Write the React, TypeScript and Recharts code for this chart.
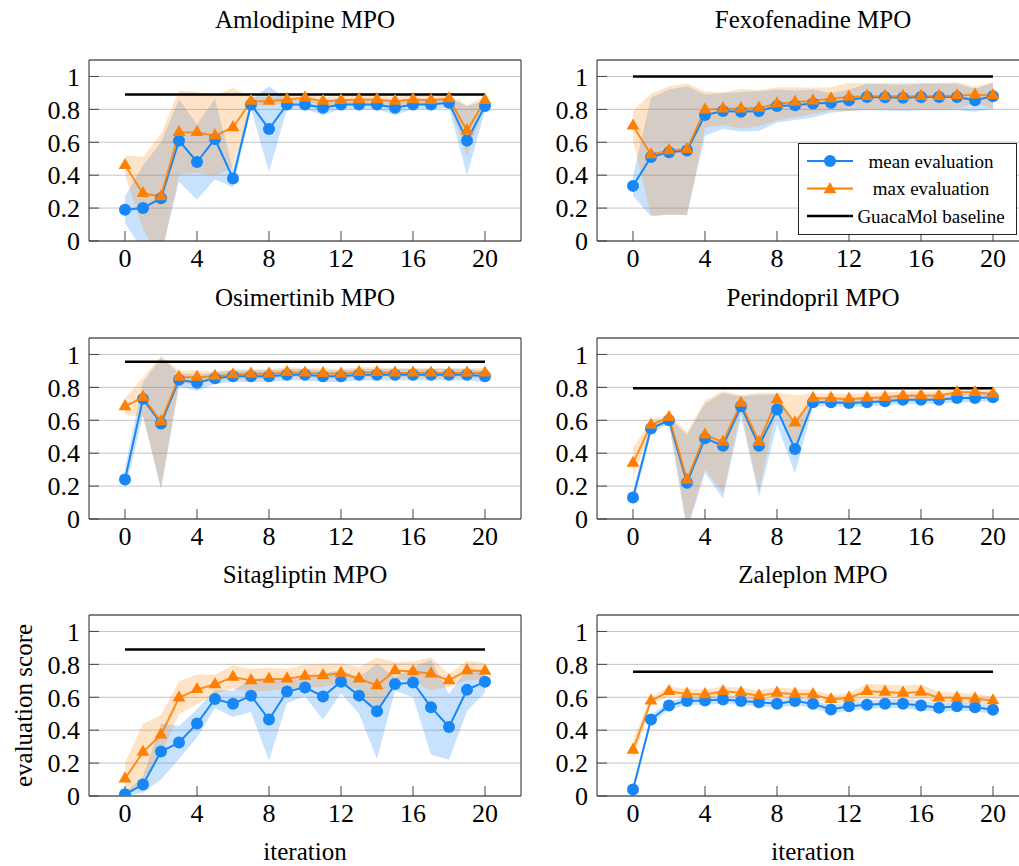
import React from "react";
import {
  ComposedChart,
  Line,
  Area,
  XAxis,
  YAxis,
  CartesianGrid,
  Legend,
} from "recharts";

const BLUE = "#1787f7";
const ORANGE = "#ff7f00";
const FONT = "'Liberation Serif', 'Times New Roman', serif";

const iterations = [0, 1, 2, 3, 4, 5, 6, 7, 8, 9, 10, 11, 12, 13, 14, 15, 16, 17, 18, 19, 20];
const xTicks = [0, 4, 8, 12, 16, 20];
const yTicks = [0, 0.2, 0.4, 0.6, 0.8, 1];

// Amlodipine MPO
const amlodipineMean = [0.19, 0.2, 0.26, 0.61, 0.48, 0.62, 0.38, 0.83, 0.68, 0.83, 0.83, 0.81, 0.83, 0.83, 0.83, 0.81, 0.83, 0.83, 0.84, 0.61, 0.82];
const amlodipineMeanSd = [0.08, 0.26, 0.34, 0.25, 0.23, 0.245, 0.055, 0.03, 0.26, 0.03, 0.03, 0.045, 0.03, 0.03, 0.03, 0.045, 0.03, 0.03, 0.03, 0.21, 0.03];
const amlodipineMax = [0.46, 0.29, 0.27, 0.66, 0.66, 0.64, 0.69, 0.85, 0.85, 0.86, 0.87, 0.85, 0.855, 0.86, 0.86, 0.85, 0.86, 0.855, 0.865, 0.67, 0.855];
const amlodipineMaxSd = [0.06, 0.22, 0.38, 0.255, 0.245, 0.245, 0.24, 0.025, 0.025, 0.025, 0.02, 0.025, 0.025, 0.025, 0.025, 0.025, 0.025, 0.025, 0.025, 0.155, 0.025];

// Fexofenadine MPO
const fexofenadineMean = [0.335, 0.51, 0.54, 0.55, 0.765, 0.79, 0.785, 0.79, 0.82, 0.825, 0.835, 0.84, 0.855, 0.875, 0.873, 0.87, 0.875, 0.875, 0.875, 0.855, 0.88];
const fexofenadineMeanSd = [0.06, 0.36, 0.38, 0.39, 0.125, 0.11, 0.12, 0.12, 0.1, 0.09, 0.085, 0.06, 0.065, 0.08, 0.08, 0.08, 0.08, 0.08, 0.08, 0.07, 0.08];
const fexofenadineMax = [0.7, 0.525, 0.55, 0.557, 0.798, 0.804, 0.804, 0.808, 0.834, 0.844, 0.852, 0.865, 0.875, 0.88, 0.88, 0.88, 0.88, 0.88, 0.885, 0.889, 0.885];
const fexofenadineMaxSd = [0.09, 0.37, 0.39, 0.4, 0.11, 0.1, 0.12, 0.11, 0.1, 0.09, 0.08, 0.07, 0.085, 0.08, 0.08, 0.08, 0.08, 0.08, 0.08, 0.05, 0.08];

// Osimertinib MPO
const osimertinibMean = [0.24, 0.73, 0.58, 0.846, 0.828, 0.856, 0.868, 0.868, 0.868, 0.876, 0.876, 0.868, 0.868, 0.876, 0.876, 0.876, 0.876, 0.876, 0.876, 0.876, 0.868];
const osimertinibMeanSd = [0.07, 0.1, 0.4, 0.04, 0.05, 0.035, 0.035, 0.035, 0.035, 0.035, 0.035, 0.035, 0.035, 0.035, 0.035, 0.035, 0.035, 0.035, 0.035, 0.035, 0.035];
const osimertinibMax = [0.684, 0.74, 0.592, 0.862, 0.862, 0.868, 0.878, 0.882, 0.882, 0.892, 0.888, 0.886, 0.882, 0.892, 0.892, 0.888, 0.888, 0.888, 0.888, 0.888, 0.888];
const osimertinibMaxSd = [0.05, 0.12, 0.4, 0.04, 0.04, 0.03, 0.03, 0.03, 0.03, 0.03, 0.03, 0.03, 0.03, 0.03, 0.03, 0.03, 0.03, 0.03, 0.03, 0.03, 0.03];

// Perindopril MPO
const perindoprilMean = [0.13, 0.55, 0.6, 0.22, 0.49, 0.445, 0.685, 0.445, 0.665, 0.425, 0.71, 0.71, 0.705, 0.71, 0.715, 0.725, 0.725, 0.725, 0.735, 0.735, 0.74];
const perindoprilMeanSd = [0.04, 0.03, 0.02, 0.29, 0.21, 0.32, 0.06, 0.31, 0.09, 0.15, 0.025, 0.025, 0.025, 0.025, 0.025, 0.025, 0.025, 0.025, 0.025, 0.025, 0.025];
const perindoprilMax = [0.34, 0.572, 0.618, 0.237, 0.511, 0.467, 0.704, 0.467, 0.726, 0.584, 0.734, 0.734, 0.73, 0.736, 0.74, 0.75, 0.75, 0.75, 0.77, 0.77, 0.76];
const perindoprilMaxSd = [0.09, 0.03, 0.02, 0.29, 0.21, 0.31, 0.05, 0.3, 0.04, 0.17, 0.03, 0.03, 0.03, 0.03, 0.03, 0.025, 0.025, 0.025, 0.02, 0.02, 0.02];

// Sitagliptin MPO
const sitagliptinMean = [0.01, 0.07, 0.27, 0.325, 0.44, 0.59, 0.56, 0.61, 0.465, 0.635, 0.66, 0.605, 0.695, 0.61, 0.515, 0.68, 0.69, 0.54, 0.42, 0.645, 0.695];
const sitagliptinMeanSd = [0.01, 0.05, 0.17, 0.1, 0.085, 0.055, 0.08, 0.1, 0.25, 0.07, 0.055, 0.14, 0.07, 0.11, 0.29, 0.04, 0.09, 0.29, 0.2, 0.13, 0.065];
const sitagliptinMax = [0.105, 0.267, 0.372, 0.597, 0.648, 0.678, 0.723, 0.702, 0.71, 0.713, 0.729, 0.733, 0.747, 0.713, 0.672, 0.763, 0.757, 0.743, 0.702, 0.763, 0.759];
const sitagliptinMaxSd = [0.1, 0.17, 0.12, 0.1, 0.09, 0.06, 0.07, 0.07, 0.07, 0.06, 0.07, 0.07, 0.06, 0.07, 0.17, 0.05, 0.06, 0.1, 0.04, 0.06, 0.05];

// Zaleplon MPO
const zaleplonMean = [0.04, 0.465, 0.55, 0.578, 0.58, 0.587, 0.578, 0.57, 0.56, 0.578, 0.56, 0.526, 0.545, 0.555, 0.56, 0.56, 0.55, 0.536, 0.545, 0.54, 0.524];
const zaleplonMeanSd = [0.02, 0.025, 0.025, 0.025, 0.025, 0.025, 0.025, 0.025, 0.025, 0.025, 0.025, 0.025, 0.025, 0.025, 0.025, 0.025, 0.03, 0.025, 0.025, 0.025, 0.025];
const zaleplonMax = [0.28, 0.578, 0.636, 0.62, 0.617, 0.636, 0.628, 0.61, 0.626, 0.62, 0.617, 0.587, 0.597, 0.636, 0.632, 0.626, 0.632, 0.597, 0.597, 0.591, 0.58];
const zaleplonMaxSd = [0.06, 0.02, 0.03, 0.03, 0.03, 0.03, 0.03, 0.03, 0.035, 0.03, 0.03, 0.025, 0.03, 0.045, 0.045, 0.045, 0.045, 0.035, 0.03, 0.03, 0.025];

// GuacaMol baselines
const baselines = [0.89, 1.0, 0.955, 0.795, 0.89, 0.755];
const titles = ["Amlodipine MPO", "Fexofenadine MPO", "Osimertinib MPO", "Perindopril MPO", "Sitagliptin MPO", "Zaleplon MPO"];

const LEGEND = [
  { label: "mean evaluation", color: BLUE, marker: "circle" },
  { label: "max evaluation", color: ORANGE, marker: "triangle" },
  { label: "GuacaMol baseline", color: "#000", marker: "none" },
];

const panels = [
  { mean: amlodipineMean, meanSd: amlodipineMeanSd, max: amlodipineMax, maxSd: amlodipineMaxSd },
  { mean: fexofenadineMean, meanSd: fexofenadineMeanSd, max: fexofenadineMax, maxSd: fexofenadineMaxSd },
  { mean: osimertinibMean, meanSd: osimertinibMeanSd, max: osimertinibMax, maxSd: osimertinibMaxSd },
  { mean: perindoprilMean, meanSd: perindoprilMeanSd, max: perindoprilMax, maxSd: perindoprilMaxSd },
  { mean: sitagliptinMean, meanSd: sitagliptinMeanSd, max: sitagliptinMax, maxSd: sitagliptinMaxSd },
  { mean: zaleplonMean, meanSd: zaleplonMeanSd, max: zaleplonMax, maxSd: zaleplonMaxSd },
];

const PLOT_TOP = [60, 338, 615];
const PLOT_H = 181;
const MARGIN_TOP = 55;

const triPoints = (cx: number, cy: number) =>
  `${cx},${cy - 7.4} ${cx - 6.4},${cy + 3.7} ${cx + 6.4},${cy + 3.7}`;

const TriangleDot = (props: any) => {
  const { cx, cy, index } = props;
  if (cx == null || cy == null) return <g key={index} />;
  return <polygon key={index} points={triPoints(cx, cy)} fill={ORANGE} />;
};

function LegendBox() {
  return (
    <svg width={219} height={92} style={{ display: "block" }}>
      <rect x={0.5} y={0.5} width={218} height={91} fill="#fff" stroke="#222" />
      {LEGEND.map((e, i) => {
        const y = 18 + i * 27.5;
        return (
          <g key={e.label}>
            <line x1={9} x2={55} y1={y} y2={y} stroke={e.color} strokeWidth={e.marker === "none" ? 2.5 : 2} />
            {e.marker === "circle" && <circle cx={32} cy={y} r={6} fill={e.color} />}
            {e.marker === "triangle" && <polygon points={triPoints(32, y + 1)} fill={e.color} />}
            <text x={133} y={y} textAnchor="middle" dominantBaseline="central" fontSize={19} fontFamily={FONT} fill="#000">
              {e.label}
            </text>
          </g>
        );
      })}
    </svg>
  );
}

function Panel({ idx }: { idx: number }) {
  const p = panels[idx];
  const row = Math.floor(idx / 2);
  const col = idx % 2;
  const bottomRow = row === 2;
  const axisH = bottomRow ? 70 : 40;
  const left = col === 0 ? 0 : 508;
  const data = iterations.map((x, i) => ({
    x,
    mean: p.mean[i],
    max: p.max[i],
    meanBand: [p.mean[i] - p.meanSd[i], p.mean[i] + p.meanSd[i]],
    maxBand: [p.max[i] - p.maxSd[i], p.max[i] + p.maxSd[i]],
    base: baselines[idx],
  }));
  const tickStyle = { fill: "#000", fontSize: 26, fontFamily: FONT };
  return (
    <>
      <div
        style={{
          position: "absolute",
          left: left + 89,
          width: 432,
          top: PLOT_TOP[row] - 32 - 21,
          fontSize: 25,
          lineHeight: "25px",
          textAlign: "center",
          fontFamily: FONT,
          color: "#000",
          whiteSpace: "nowrap",
        }}
      >
        {titles[idx]}
      </div>
      <div style={{ position: "absolute", left, top: PLOT_TOP[row] - MARGIN_TOP }}>
        <ComposedChart
          width={541}
          height={MARGIN_TOP + PLOT_H + axisH}
          data={data}
          margin={{ top: MARGIN_TOP - 1, right: 19, bottom: 0, left: 0 }}
          style={{ fontFamily: FONT }}
        >
          <CartesianGrid vertical={false} stroke="#c4c4c4" strokeWidth={1} />
          <XAxis
            dataKey="x"
            type="number"
            domain={[-2, 22]}
            ticks={xTicks}
            interval={0}
            height={axisH}
            tickSize={-10}
            tickMargin={18}
            tickLine={{ stroke: "#444" }}
            axisLine={{ stroke: "#222" }}
            tick={tickStyle}
            allowDataOverflow
            label={
              bottomRow
                ? { value: "iteration", position: "insideBottom", offset: 6, fontSize: 25, fill: "#000", fontFamily: FONT }
                : undefined
            }
          />
          <XAxis
            xAxisId="top"
            orientation="top"
            dataKey="x"
            type="number"
            domain={[-2, 22]}
            ticks={xTicks}
            interval={0}
            height={1}
            tickSize={-10}
            tick={false}
            tickLine={{ stroke: "#444" }}
            axisLine={{ stroke: "#222" }}
            allowDataOverflow
          />
          <YAxis
            type="number"
            domain={[0, 1.1]}
            ticks={yTicks}
            interval={0}
            width={89}
            tickSize={-10}
            tickMargin={19}
            tickLine={{ stroke: "#444" }}
            axisLine={{ stroke: "#222" }}
            tick={tickStyle}
            tickFormatter={(v: number) => (v === 0 ? "0" : v === 1 ? "1" : v.toFixed(1))}
            allowDataOverflow
            label={
              idx === 4
                ? {
                    value: "evaluation score",
                    angle: -90,
                    position: "insideLeft",
                    offset: 23,
                    fontSize: 25,
                    fill: "#000",
                    fontFamily: FONT,
                    style: { textAnchor: "middle" },
                  }
                : undefined
            }
          />
          <YAxis
            yAxisId="right"
            orientation="right"
            type="number"
            domain={[0, 1.1]}
            ticks={yTicks}
            interval={0}
            width={1}
            tickSize={-10}
            tick={false}
            tickLine={{ stroke: "#444" }}
            axisLine={{ stroke: "#222" }}
            allowDataOverflow
          />
          <Area
            type="linear"
            dataKey="meanBand"
            stroke="none"
            fill={BLUE}
            fillOpacity={0.24}
            isAnimationActive={false}
            activeDot={false}
          />
          <Area
            type="linear"
            dataKey="maxBand"
            stroke="none"
            fill={ORANGE}
            fillOpacity={0.22}
            isAnimationActive={false}
            activeDot={false}
          />
          <Line
            xAxisId="top"
            yAxisId="right"
            type="linear"
            dataKey="base"
            stroke="#000"
            strokeWidth={2.5}
            dot={false}
            activeDot={false}
            isAnimationActive={false}
          />
          <Line
            type="linear"
            dataKey="mean"
            stroke={BLUE}
            strokeWidth={2}
            dot={{ r: 6, fill: BLUE, stroke: BLUE, strokeWidth: 0 }}
            activeDot={false}
            isAnimationActive={false}
          />
          <Line
            type="linear"
            dataKey="max"
            stroke={ORANGE}
            strokeOpacity={0.85}
            strokeWidth={2}
            dot={TriangleDot}
            activeDot={false}
            isAnimationActive={false}
          />
          {idx === 1 && (
            <Legend
              layout="vertical"
              align="center"
              verticalAlign="middle"
              content={() => <LegendBox />}
              wrapperStyle={{ left: 290, top: 138, width: 219, height: 92 }}
            />
          )}
        </ComposedChart>
      </div>
    </>
  );
}

export default function App() {
  return (
    <div
      style={{
        position: "absolute",
        left: 0,
        top: 0,
        width: 1019,
        height: 866,
        overflow: "hidden",
        background: "#fff",
        fontFamily: FONT,
      }}
    >
      <style>{`.recharts-text, .recharts-cartesian-axis-tick-value, .recharts-label { font-family: 'Liberation Serif', 'Times New Roman', serif !important; }`}</style>
      {panels.map((_, i) => (
        <Panel key={i} idx={i} />
      ))}
    </div>
  );
}
